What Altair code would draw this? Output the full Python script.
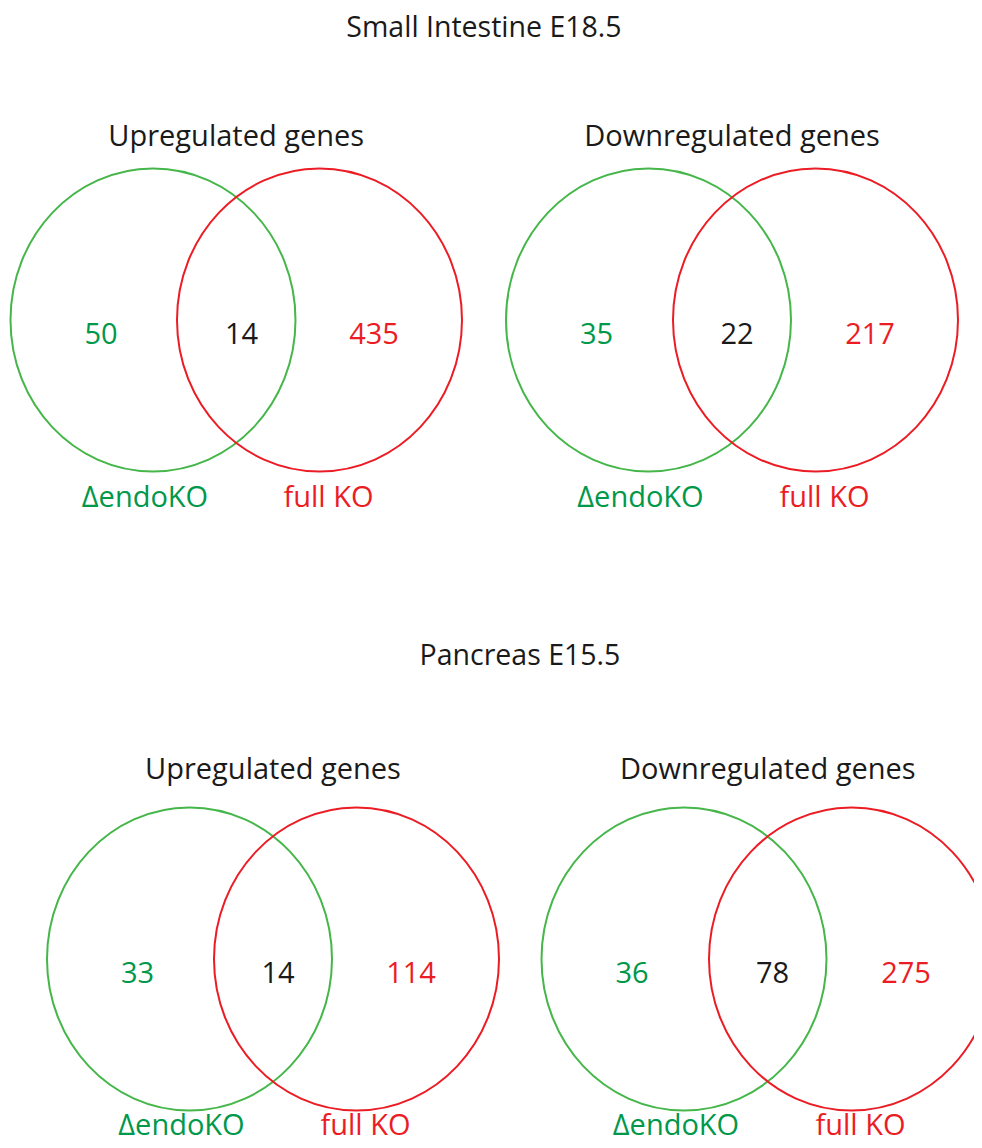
import altair as alt
import pandas as pd

# ---- content ----
section_titles = ["Small Intestine E18.5", "Pancreas E15.5"]
panel_titles = ["Upregulated genes", "Downregulated genes", "Upregulated genes", "Downregulated genes"]
panel_section = [0, 0, 1, 1]
endo_only = [50, 35, 33, 36]
shared = [14, 22, 14, 78]
full_only = [435, 217, 114, 275]
set_names = ["ΔendoKO", "full KO"]

# ---- layout (page pixel space) ----
W, H = 966, 1132
green_cx = [153, 648.5, 189.5, 684]
red_cx = [319.5, 815.5, 356.5, 851.5]
panel_cy = [320, 320, 959, 959]
label_dy = [187, 187, 176, 176]
RX, RY = 142.5, 151.5
section_x = [484, 520]
section_base = [37, 665]
heading_base = [145.5, 779]

FONT = "Open Sans"
GREEN_RING = "#45b649"
GREEN_TEXT = "#00984a"
RED = "#ec1c24"

ring_rows, count_rows, label_rows, head_rows = [], [], [], []
for i in range(len(panel_titles)):
    g, r, cy = green_cx[i], red_cx[i], panel_cy[i]
    ring_rows += [dict(x=g, y=cy, role="endo_ring"), dict(x=r, y=cy, role="full_ring")]
    count_rows += [
        dict(x=g - 52, y=cy + 24, text=str(endo_only[i]), role="endo"),
        dict(x=g + 88.5, y=cy + 24, text=str(shared[i]), role="shared"),
        dict(x=r + 54.5, y=cy + 24, text=str(full_only[i]), role="full"),
    ]
    label_rows += [
        dict(x=g - 8, y=cy + label_dy[i], text=set_names[0], role="endo"),
        dict(x=r + 9, y=cy + label_dy[i], text=set_names[1], role="full"),
    ]
    head_rows.append(dict(x=(g + r) / 2, y=heading_base[panel_section[i]], text=panel_titles[i], role="shared"))

sec_rows = [dict(x=section_x[k], y=section_base[k], text=t, role="shared") for k, t in enumerate(section_titles)]

xs = alt.X("x:Q", scale=alt.Scale(domain=[8, 8 + W], nice=False, zero=False), axis=None)
ys = alt.Y("y:Q", scale=alt.Scale(domain=[8, 8 + H], nice=False, zero=False, reverse=True), axis=None)
col = alt.Color("role:N", legend=None,
                scale=alt.Scale(domain=["endo_ring", "full_ring", "endo", "shared", "full"],
                                range=[GREEN_RING, RED, GREEN_TEXT, "#1a1a1a", RED]))

k = RX / RY
ellipse = f"M {-k} 0 A {k} 1 0 1 1 {k} 0 A {k} 1 0 1 1 {-k} 0 Z"

rings = alt.Chart(pd.DataFrame(ring_rows)).mark_point(
    shape=ellipse, size=(2 * RY) ** 2, filled=False, strokeWidth=2, opacity=1
).encode(x=xs, y=ys, color=col)

def text_layer(rows, size):
    return alt.Chart(pd.DataFrame(rows)).mark_text(
        font=FONT, fontSize=size, align="center", baseline="alphabetic"
    ).encode(x=xs, y=ys, text="text:N", color=col)

chart = alt.layer(
    rings,
    text_layer(sec_rows, 28.5),
    text_layer(head_rows, 29),
    text_layer(count_rows, 29),
    text_layer(label_rows, 29),
).properties(
    width=W, height=H, padding=0, autosize=alt.AutoSizeParams(type="none")
).configure_view(stroke=None)

chart.save("out.html", embed_options={"renderer": "svg", "actions": False})
